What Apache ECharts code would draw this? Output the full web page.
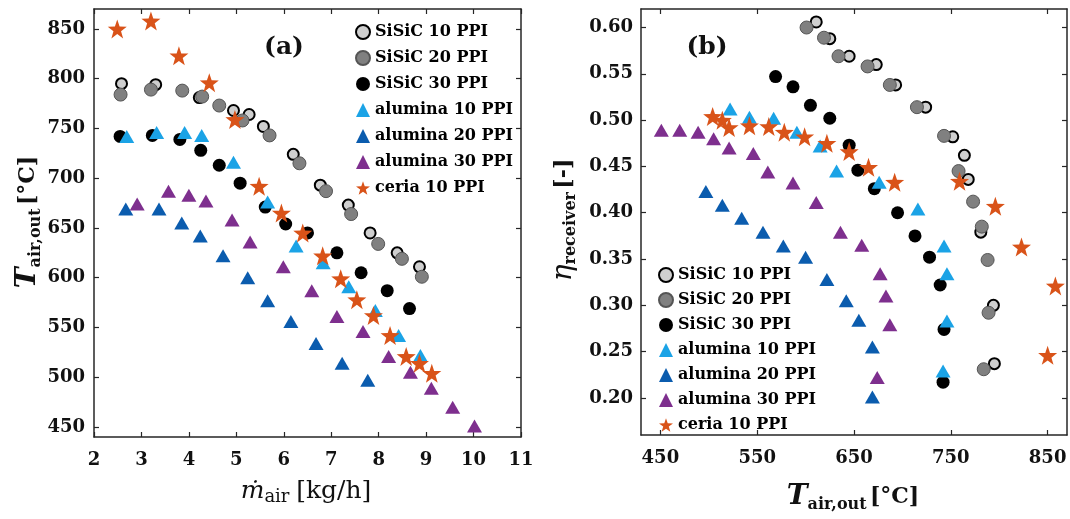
<!DOCTYPE html>
<html>
<head>
<meta charset="utf-8">
<script src="https://cdn.jsdelivr.net/npm/echarts@6/dist/echarts.min.js"></script>
<style>
  html, body { margin: 0; padding: 0; background: #fff; }
  #chart { width: 1070px; height: 519px; }
</style>
</head>
<body>
<div id="chart"></div>
<script>
// series names (legend order)
const names = ['SiSiC 10 PPI', 'SiSiC 20 PPI', 'SiSiC 30 PPI', 'alumina 10 PPI', 'alumina 20 PPI', 'alumina 30 PPI', 'ceria 10 PPI'];

// mass flow [kg/h], outlet temperature [°C], receiver efficiency [-]
const mdotSiSiC10 = [2.58, 3.30, 4.22, 4.94, 5.27, 5.57, 6.20, 6.77, 7.36, 7.82, 8.39, 8.86];
const tSiSiC10 = [795, 794, 781, 768, 764, 752, 724, 693, 673, 645, 625, 611];
const etaSiSiC10 = [0.237, 0.300, 0.379, 0.436, 0.462, 0.482, 0.514, 0.538, 0.560, 0.569, 0.588, 0.606];

const mdotSiSiC20 = [2.56, 3.20, 3.86, 4.28, 4.64, 5.13, 5.70, 6.33, 6.89, 7.42, 7.99, 8.49, 8.91];
const tSiSiC20 = [784, 789, 788, 782, 773, 758, 743, 715, 687, 664, 634, 619, 601];
const etaSiSiC20 = [0.231, 0.292, 0.349, 0.385, 0.412, 0.445, 0.483, 0.514, 0.538, 0.558, 0.569, 0.589, 0.600];

const mdotSiSiC30 = [2.55, 3.23, 3.81, 4.25, 4.64, 5.08, 5.61, 6.04, 6.50, 7.12, 7.63, 8.18, 8.65];
const tSiSiC30 = [742, 743, 739, 728, 713, 695, 671, 654, 645, 625, 605, 587, 569];
const etaSiSiC30 = [0.217, 0.274, 0.322, 0.352, 0.375, 0.400, 0.426, 0.446, 0.473, 0.502, 0.516, 0.536, 0.547];

const mdotAl10 = [2.69, 3.32, 3.91, 4.27, 4.94, 5.66, 6.26, 6.83, 7.37, 7.93, 8.42, 8.88];
const tAl10 = [742, 746, 746, 743, 716, 676, 632, 615, 591, 567, 542, 522];
const etaAl10 = [0.229, 0.283, 0.334, 0.364, 0.404, 0.433, 0.445, 0.472, 0.487, 0.502, 0.503, 0.512];

const mdotAl20 = [2.67, 3.37, 3.85, 4.24, 4.72, 5.24, 5.66, 6.15, 6.68, 7.23, 7.77];
const tAl20 = [669, 669, 655, 642, 622, 600, 577, 556, 534, 514, 497];
const etaAl20 = [0.201, 0.255, 0.284, 0.305, 0.328, 0.352, 0.364, 0.379, 0.394, 0.408, 0.423];

const mdotAl30 = [2.91, 3.57, 4.00, 4.36, 4.91, 5.29, 5.99, 6.59, 7.12, 7.67, 8.21, 8.67, 9.11, 9.56, 10.02];
const tAl30 = [674, 687, 683, 677, 658, 636, 611, 587, 561, 546, 521, 505, 489, 470, 451];
const etaAl30 = [0.222, 0.279, 0.310, 0.334, 0.365, 0.379, 0.411, 0.432, 0.444, 0.464, 0.470, 0.480, 0.487, 0.489, 0.489];

const mdotCeria10 = [2.49, 3.20, 3.79, 4.43, 4.97, 5.48, 5.95, 6.40, 6.82, 7.20, 7.54, 7.89, 8.24, 8.58, 8.86, 9.12];
const tCeria10 = [850, 858, 823, 796, 759, 692, 665, 645, 622, 599, 578, 562, 542, 521, 514, 504];
const etaCeria10 = [0.246, 0.321, 0.363, 0.407, 0.434, 0.433, 0.449, 0.466, 0.475, 0.482, 0.487, 0.493, 0.494, 0.492, 0.500, 0.504];

// tick labels
const tempTicksA = [450, 500, 550, 600, 650, 700, 750, 800, 850];
const tempTicksB = [450, 550, 650, 750, 850];
const etaTicks = [0.20, 0.25, 0.30, 0.35, 0.40, 0.45, 0.50, 0.55, 0.60];

const serif = 'DejaVu Serif';
const star = 'path://M0,-10L2.35,-3.24L9.51,-3.09L3.8,1.24L5.88,8.09L0,4L-5.88,8.09L-3.8,1.24L-9.51,-3.09L-2.35,-3.24Z';

const looks = [
  { symbol: 'circle', symbolSize: 11, itemStyle: { color: '#cfcfcf', borderColor: '#000', borderWidth: 2, opacity: 1 } },
  { symbol: 'circle', symbolSize: 13, itemStyle: { color: '#808080', borderColor: '#555', borderWidth: 1, opacity: 1 } },
  { symbol: 'circle', symbolSize: 13, itemStyle: { color: '#000', opacity: 1 } },
  { symbol: 'triangle', symbolSize: [15, 13], itemStyle: { color: '#1ba3e6', opacity: 1 } },
  { symbol: 'triangle', symbolSize: [15, 13], itemStyle: { color: '#0b5cae', opacity: 1 } },
  { symbol: 'triangle', symbolSize: [15, 13], itemStyle: { color: '#7e2f8e', opacity: 1 } },
  { symbol: star, symbolSize: 19, itemStyle: { color: '#d95319', opacity: 1 } }
];

const groups = [
  [mdotSiSiC10, tSiSiC10, etaSiSiC10],
  [mdotSiSiC20, tSiSiC20, etaSiSiC20],
  [mdotSiSiC30, tSiSiC30, etaSiSiC30],
  [mdotAl10, tAl10, etaAl10],
  [mdotAl20, tAl20, etaAl20],
  [mdotAl30, tAl30, etaAl30],
  [mdotCeria10, tCeria10, etaCeria10]
];

const series = [];
groups.forEach((g, k) => {
  series.push(Object.assign({
    type: 'scatter', name: names[k], xAxisIndex: 0, yAxisIndex: 0,
    data: g[0].map((m, i) => [m, g[1][i]])
  }, looks[k]));
});
groups.forEach((g, k) => {
  series.push(Object.assign({
    type: 'scatter', name: names[k], xAxisIndex: 2, yAxisIndex: 2,
    data: g[1].map((t, i) => [t, g[2][i]])
  }, looks[k]));
});

const lineC = '#262626';
function ax(extra) {
  return Object.assign({
    type: 'value',
    axisLine: { show: true, onZero: false, lineStyle: { color: lineC, width: 1.5 } },
    axisTick: { show: true, inside: true, length: 5, lineStyle: { color: lineC, width: 1.2 } },
    splitLine: { show: false },
    axisLabel: { show: false }
  }, extra);
}
const lab = { show: true, color: '#111', fontFamily: serif, fontWeight: 'bold', fontSize: 18 };

const legendText = { color: '#000', fontFamily: serif, fontWeight: 'bold', fontSize: 16, lineHeight: 20 };

const titleRich = {
  t: { fontFamily: serif, fontWeight: 'bold', fontStyle: 'italic', fontSize: 28, lineHeight: 32, fill: '#111' },
  s: { fontFamily: serif, fontWeight: 'bold', fontSize: 16, lineHeight: 16, verticalAlign: 'bottom', fill: '#111' },
  u: { fontFamily: serif, fontWeight: 'bold', fontSize: 22, lineHeight: 32, fill: '#111' }
};

const chart = echarts.init(document.getElementById('chart'));
chart.setOption({
  animation: false,
  backgroundColor: '#fff',
  grid: [
    { left: 94, top: 9, width: 427, height: 428 },
    { left: 641, top: 9, width: 426, height: 426 }
  ],
  xAxis: [
    ax({ gridIndex: 0, position: 'bottom', min: 2, max: 11, interval: 1, axisLabel: Object.assign({ margin: 14 }, lab) }),
    ax({ gridIndex: 0, position: 'top', min: 2, max: 11, interval: 1 }),
    ax({ gridIndex: 1, position: 'bottom', min: 430, max: 870,
      axisLabel: Object.assign({ margin: 14, customValues: tempTicksB }, lab),
      axisTick: { show: true, inside: true, length: 5, customValues: tempTicksB, lineStyle: { color: lineC, width: 1.2 } } }),
    ax({ gridIndex: 1, position: 'top', min: 430, max: 870,
      axisTick: { show: true, inside: true, length: 5, customValues: tempTicksB, lineStyle: { color: lineC, width: 1.2 } } })
  ],
  yAxis: [
    ax({ gridIndex: 0, position: 'left', min: 440, max: 870,
      axisLabel: Object.assign({ margin: 9, customValues: tempTicksA }, lab),
      axisTick: { show: true, inside: true, length: 5, customValues: tempTicksA, lineStyle: { color: lineC, width: 1.2 } } }),
    ax({ gridIndex: 0, position: 'right', min: 440, max: 870,
      axisTick: { show: true, inside: true, length: 5, customValues: tempTicksA, lineStyle: { color: lineC, width: 1.2 } } }),
    ax({ gridIndex: 1, position: 'left', min: 0.16, max: 0.62,
      axisLabel: Object.assign({ margin: 8, customValues: etaTicks, formatter: v => v.toFixed(2) }, lab),
      axisTick: { show: true, inside: true, length: 5, customValues: etaTicks, lineStyle: { color: lineC, width: 1.2 } } }),
    ax({ gridIndex: 1, position: 'right', min: 0.16, max: 0.62,
      axisTick: { show: true, inside: true, length: 5, customValues: etaTicks, lineStyle: { color: lineC, width: 1.2 } } })
  ],
  legend: [
    { orient: 'vertical', left: 350, top: 17, itemWidth: 14, itemHeight: 14, itemGap: 6,
      selectedMode: false, textStyle: legendText, data: names },
    { orient: 'vertical', left: 653, top: 260, itemWidth: 14, itemHeight: 14, itemGap: 5,
      selectedMode: false, textStyle: legendText, data: names }
  ],
  graphic: [
    { type: 'text', x: 284, y: 47, style: { text: '(a)', font: 'bold 25px "DejaVu Serif"', fill: '#111', align: 'center', verticalAlign: 'middle' } },
    { type: 'text', x: 707, y: 47, style: { text: '(b)', font: 'bold 25px "DejaVu Serif"', fill: '#111', align: 'center', verticalAlign: 'middle' } },
    { type: 'text', x: 28, y: 222, rotation: Math.PI / 2,
      style: { text: '{t|T}{s|air,out} {u|[°C]}', rich: titleRich, align: 'center', verticalAlign: 'middle' } },
    { type: 'text', x: 853, y: 497,
      style: { text: '{t|T}{s|air,out} {u|[°C]}', rich: titleRich, align: 'center', verticalAlign: 'middle' } },
    { type: 'text', x: 306, y: 491,
      style: {
        text: '{m|ṁ}{s|air}  {u|[kg/h]}', align: 'center', verticalAlign: 'middle',
        rich: {
          m: { fontFamily: serif, fontStyle: 'italic', fontSize: 25, lineHeight: 30, fill: '#111' },
          s: { fontFamily: serif, fontSize: 18, lineHeight: 18, verticalAlign: 'bottom', fill: '#111' },
          u: { fontFamily: serif, fontSize: 25, lineHeight: 30, fill: '#111' }
        }
      } },
    { type: 'text', x: 564, y: 220, rotation: Math.PI / 2,
      style: {
        text: '{e|η}{s|receiver} {u|[-]}', align: 'center', verticalAlign: 'middle',
        rich: {
          e: { fontFamily: serif, fontStyle: 'italic', fontSize: 28, lineHeight: 30, fill: '#111' },
          s: { fontFamily: serif, fontWeight: 'bold', fontSize: 16, lineHeight: 16, verticalAlign: 'bottom', fill: '#111' },
          u: { fontFamily: serif, fontWeight: 'bold', fontSize: 22, lineHeight: 30, fill: '#111' }
        }
      } }
  ],
  series: series
});
</script>
</body>
</html>
